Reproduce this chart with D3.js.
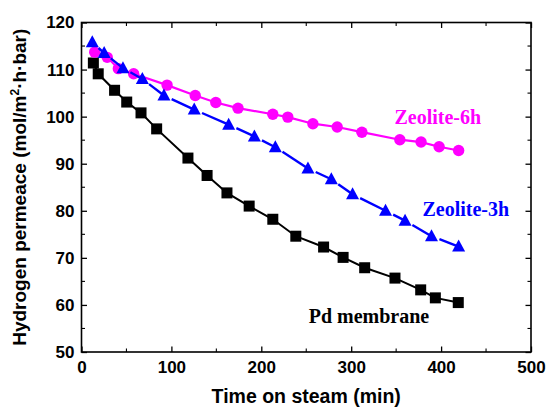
<!DOCTYPE html>
<html>
<head>
<meta charset="utf-8">
<script src="https://cdn.jsdelivr.net/npm/d3@7"></script>
<style>
  html, body { margin: 0; padding: 0; background: #fff; }
  svg { display: block; }
</style>
</head>
<body>
<svg id="chart" width="547" height="411"></svg>
<script>
// ---- data ----
const pdTime   = [13.2, 18.6, 36.8, 50.3, 66.2, 83.6, 118.4, 139.7, 161.8, 186.5, 212.8, 238.4, 269.3, 291.0, 315.0, 348.7, 377.3, 393.6, 419.1];
const pdPerm   = [111.4, 109.1, 105.6, 103.1, 100.8, 97.4, 91.2, 87.5, 83.8, 81.0, 78.2, 74.6, 72.3, 70.1, 67.9, 65.7, 63.2, 61.5, 60.5];

const z6Time   = [14.7, 28.6, 41.0, 58.0, 95.2, 126.5, 149.4, 174.1, 212.8, 229.5, 257.4, 284.4, 311.9, 354.1, 377.7, 397.8, 419.5];
const z6Perm   = [113.7, 112.6, 110.2, 109.1, 106.7, 104.5, 103.0, 101.8, 100.5, 99.9, 98.5, 97.8, 96.7, 95.1, 94.6, 93.6, 92.8];

const z3Time   = [12.0, 25.2, 46.1, 67.7, 91.7, 125.4, 163.7, 192.3, 215.6, 251.9, 277.9, 301.5, 338.2, 359.9, 389.3, 419.5];
const z3Perm   = [115.8, 113.5, 110.3, 108.0, 104.5, 101.5, 98.3, 95.8, 93.5, 89.0, 86.7, 83.5, 80.0, 77.9, 74.6, 72.4];

const xTicks = [0, 100, 200, 300, 400, 500];
const yTicks = [50, 60, 70, 80, 90, 100, 110, 120];
const xMinor = [50, 150, 250, 350, 450];
const yMinor = [55, 65, 75, 85, 95, 105, 115];

const seriesNames = ["Pd membrane", "Zeolite-3h", "Zeolite-6h"];

// ---- layout ----
const svg = d3.select("#chart");
const L = 81.5, R = 531, T = 22.5, B = 352;
const x = d3.scaleLinear().domain([0, 500]).range([L, R]);
const y = d3.scaleLinear().domain([50, 120]).range([B, T]);

const tickFont = "bold 17px 'Liberation Sans', Arial, sans-serif";

const gx = svg.append("g").attr("transform", `translate(0,${B})`)
  .call(d3.axisBottom(x).tickValues(xTicks).tickSizeInner(-5.5).tickSizeOuter(0).tickPadding(9));
const gy = svg.append("g").attr("transform", `translate(${L},0)`)
  .call(d3.axisLeft(y).tickValues(yTicks).tickSizeInner(-5.5).tickSizeOuter(0).tickPadding(7));
const gt = svg.append("g").attr("transform", `translate(0,${T})`)
  .call(d3.axisTop(x).tickValues(xTicks).tickSizeInner(-5.5).tickSizeOuter(0).tickFormat(""));
const gr = svg.append("g").attr("transform", `translate(${R},0)`)
  .call(d3.axisRight(y).tickValues(yTicks).tickSizeInner(-5.5).tickSizeOuter(0).tickFormat(""));

[gx, gy, gt, gr].forEach(g => {
  g.select(".domain").remove();
  g.selectAll(".tick line").attr("stroke", "#000").attr("stroke-width", 1.3);
  g.selectAll(".tick text").style("font", tickFont).attr("fill", "#000");
});

const minor = svg.append("g").attr("stroke", "#000").attr("stroke-width", 1.1);
minor.selectAll(".mb").data(xMinor).join("line")
  .attr("x1", d => x(d)).attr("x2", d => x(d)).attr("y1", B).attr("y2", B - 3.5);
minor.selectAll(".mt").data(xMinor).join("line")
  .attr("x1", d => x(d)).attr("x2", d => x(d)).attr("y1", T).attr("y2", T + 3.5);
minor.selectAll(".ml").data(yMinor).join("line")
  .attr("y1", d => y(d)).attr("y2", d => y(d)).attr("x1", L).attr("x2", L + 3.5);
minor.selectAll(".mr").data(yMinor).join("line")
  .attr("y1", d => y(d)).attr("y2", d => y(d)).attr("x1", R).attr("x2", R - 3.5);

svg.append("rect").attr("x", L).attr("y", T).attr("width", R - L).attr("height", B - T)
  .attr("fill", "none").attr("stroke", "#000").attr("stroke-width", 1.6);

// ---- series ----
const line = d3.line().x(d => x(d[0])).y(d => y(d[1]));
function zip(a, b) { return a.map((v, i) => [v, b[i]]); }

const pd = zip(pdTime, pdPerm);
svg.append("path").attr("d", line(pd)).attr("fill", "none").attr("stroke", "#000").attr("stroke-width", 2);
svg.selectAll(".sq").data(pd).join("rect")
  .attr("x", d => x(d[0]) - 5.5).attr("y", d => y(d[1]) - 5.5)
  .attr("width", 11).attr("height", 11).attr("fill", "#000");

const z6 = zip(z6Time, z6Perm);
svg.append("path").attr("d", line(z6)).attr("fill", "none").attr("stroke", "#FF00FF").attr("stroke-width", 2.2);
svg.selectAll(".ci").data(z6).join("circle")
  .attr("cx", d => x(d[0])).attr("cy", d => y(d[1])).attr("r", 5.7).attr("fill", "#FF00FF");

const z3 = zip(z3Time, z3Perm);
const gap = 8.5;
const segs = [];
for (let i = 0; i < z3.length - 1; i++) {
  const x0 = x(z3[i][0]), y0 = y(z3[i][1]), x1 = x(z3[i + 1][0]), y1 = y(z3[i + 1][1]);
  const len = Math.hypot(x1 - x0, y1 - y0);
  const ux = (x1 - x0) / len, uy = (y1 - y0) / len;
  segs.push([x0 + ux * gap, y0 + uy * gap, x1, y1]);
}
svg.selectAll(".seg").data(segs).join("line")
  .attr("x1", d => d[0]).attr("y1", d => d[1]).attr("x2", d => d[2]).attr("y2", d => d[3])
  .attr("stroke", "#0000FF").attr("stroke-width", 2.4);
svg.selectAll(".tri").data(z3).join("path")
  .attr("transform", d => `translate(${x(d[0])},${y(d[1])})`)
  .attr("d", "M0,-7L6.5,5L-6.5,5Z").attr("fill", "#0000FF");

// ---- labels ----
const labFont = "bold 20px 'Liberation Serif', 'Times New Roman', serif";
svg.append("text").attr("x", 394.5).attr("y", 123.7).style("font", labFont).attr("fill", "#FF00FF").text(seriesNames[2]);
svg.append("text").attr("x", 422.5).attr("y", 216.2).style("font", labFont).attr("fill", "#0000FF").text(seriesNames[1]);
svg.append("text").attr("x", 308.7).attr("y", 322.7).style("font", labFont).attr("fill", "#000").text(seriesNames[0]);

const titleFont = "bold 19.5px 'Liberation Sans', Arial, sans-serif";
svg.append("text").attr("x", (L + R) / 2).attr("y", 403).attr("text-anchor", "middle")
  .style("font", titleFont).text("Time on steam (min)");

const yt = svg.append("text").attr("transform", `translate(26,${(T + B) / 2}) rotate(-90)`)
  .attr("text-anchor", "middle").style("font", "bold 19px 'Liberation Sans', Arial, sans-serif");
yt.append("tspan").text("Hydrogen permeace (mol/m");
yt.append("tspan").attr("dy", -7).style("font-size", "12px").text("2");
yt.append("tspan").attr("dy", 7).text("\u00B7h\u00B7bar)");
</script>
</body>
</html>
